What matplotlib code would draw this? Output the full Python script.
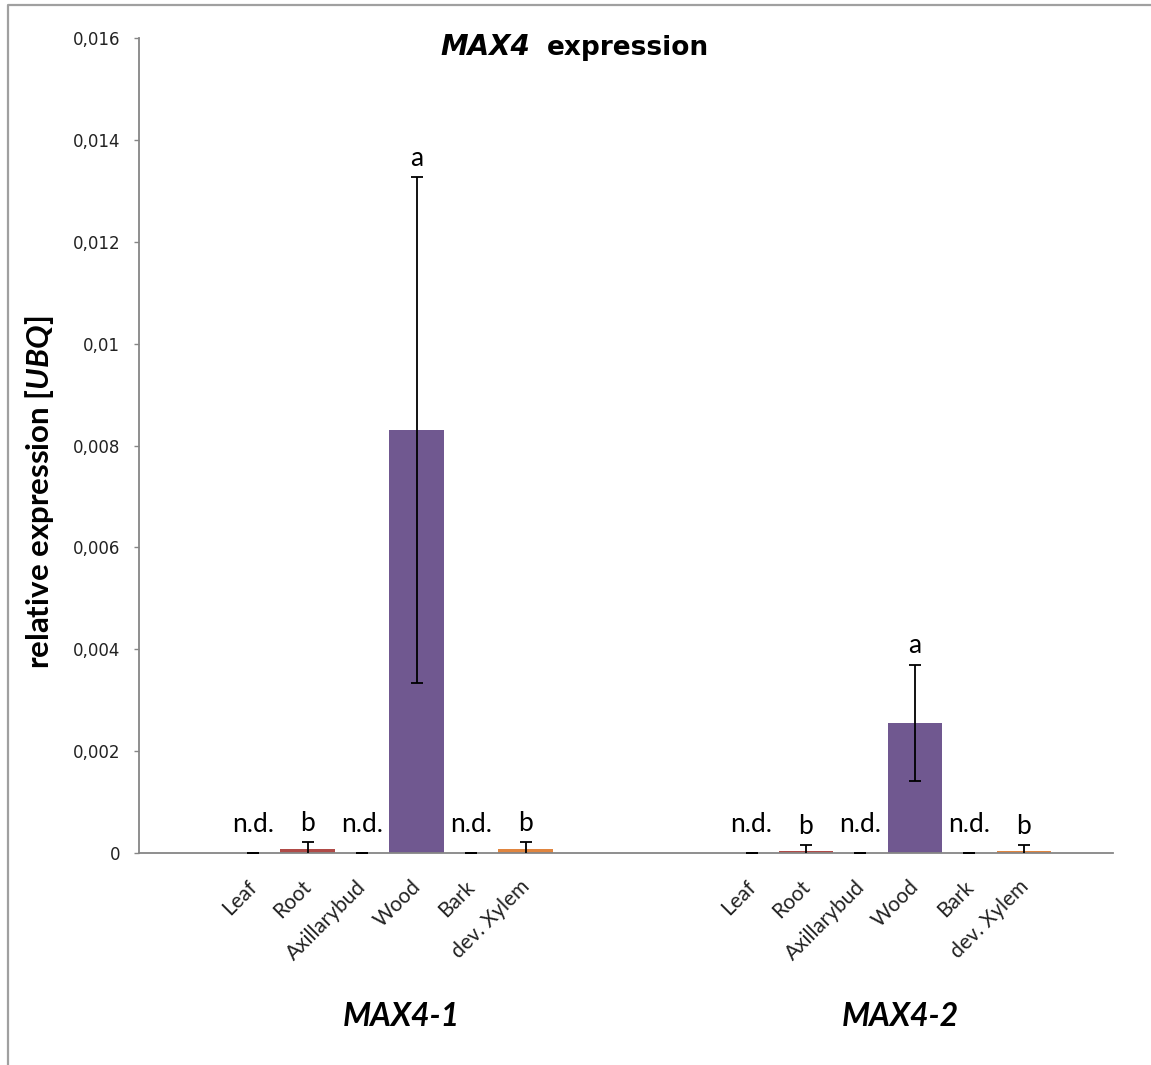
# MAX4 expression in different tissues, two gene copies side by side
import numpy as np
import matplotlib
matplotlib.use('Agg')
import matplotlib.pyplot as plt
from matplotlib.lines import Line2D
from matplotlib.ticker import FuncFormatter
from matplotlib.transforms import ScaledTranslation

plt.rcParams['mathtext.fontset'] = 'custom'
plt.rcParams['mathtext.it'] = 'Lato:bold:italic'
plt.rcParams['mathtext.rm'] = 'Lato:bold'

# data
tissues = ['Leaf', 'Root', 'Axillarybud', 'Wood', 'Bark', 'dev. Xylem']
genes = ['MAX4-1', 'MAX4-2']
max4_1_mean = [0, 0.00008, 0, 0.0083, 0, 0.00008]
max4_1_err = [0, 0.00013, 0, 0.00497, 0, 0.00014]
max4_2_mean = [0, 0.00004, 0, 0.00256, 0, 0.00004]
max4_2_err = [0, 0.00012, 0, 0.00114, 0, 0.00012]
letters_1 = ['n.d.', 'b', 'n.d.', 'a', 'n.d.', 'b']
letters_2 = ['n.d.', 'b', 'n.d.', 'a', 'n.d.', 'b']
yticks = np.arange(0, 0.0161, 0.002)

tissue_colors = ['#4F81BD', '#B04B48', '#9BBB59', '#705890', '#4BACC6', '#E0853F']
group_offsets = [0, 9.147]

fig = plt.figure(figsize=(11.51, 10.65), dpi=100)
ax = fig.add_axes([0.12077, 0.19906, 0.8462, 0.76526])

x_all, labels_all = [], []
for off, means, errs, letters in zip(group_offsets,
                                     [max4_1_mean, max4_2_mean],
                                     [max4_1_err, max4_2_err],
                                     [letters_1, letters_2]):
    x = np.arange(len(tissues)) + off
    ax.bar(x, means, width=1.0, color=tissue_colors, zorder=2)
    ax.errorbar(x, means, yerr=errs, fmt='none', ecolor='black',
                elinewidth=1.3, capsize=4, capthick=1.3, zorder=3)
    for xi, m, e, lab in zip(x, means, errs, letters):
        dy = 15 if lab == 'n.d.' else 8
        ax.annotate(lab, (xi, m + e), xytext=(0, dy), textcoords='offset points',
                    ha='center', va='baseline', fontsize=19, family='Lato',
                    color='black')
    x_all.extend(x)
    labels_all.extend(tissues)

ax.set_xlim(-2.092, 15.78)
ax.set_ylim(0, 0.016)
ax.set_yticks(yticks)
ax.yaxis.set_major_formatter(FuncFormatter(lambda v, p: f'{v:g}'.replace('.', ',')))
ax.tick_params(axis='y', direction='out', length=3.6, width=1, color='#868686',
               pad=10, labelsize=12, labelcolor='#222222')
ax.set_xticks(x_all)
ax.set_xticklabels(labels_all, rotation=45, ha='right', rotation_mode='anchor',
                   fontsize=15, family='Lato', color='#222222')
ax.tick_params(axis='x', length=0, pad=17)
shift = ScaledTranslation(-6 / 100, 0, fig.dpi_scale_trans)
for lab in ax.get_xticklabels():
    lab.set_transform(lab.get_transform() + shift)

for s in ['top', 'right']:
    ax.spines[s].set_visible(False)
for s in ['left', 'bottom']:
    ax.spines[s].set_color('#868686')
    ax.spines[s].set_linewidth(1.3)

# group labels under the tick labels
for off, g in zip(group_offsets, genes):
    ax.text(off + 2.5 + 0.23, -0.0034, g, ha='center', va='baseline',
            fontsize=23, family='Lato', fontweight='bold', fontstyle='italic')

# title in two pieces: italic gene name + plain word
fig.text(530 / 1151, 1 - 55 / 1065, 'MAX4', ha='right', va='baseline',
         fontsize=20, fontweight='bold', fontstyle='italic')
fig.text(547 / 1151, 1 - 55 / 1065, 'expression', ha='left', va='baseline',
         fontsize=19, fontweight='bold')

fig.text(40 / 1151, 1 - 492 / 1065, r'relative expression [$UBQ$]', rotation=90,
         ha='center', va='center', fontsize=22.5, family='Lato', fontweight='bold')

# chart area frame (cut off at right and bottom)
fx, fy = 8 / 1151, 1 - 5 / 1065
fig.add_artist(Line2D([fx, fx, 1], [0, fy, fy], transform=fig.transFigure,
                      color='#A0A0A0', lw=1.6))

fig.savefig('out.png', dpi=100)
